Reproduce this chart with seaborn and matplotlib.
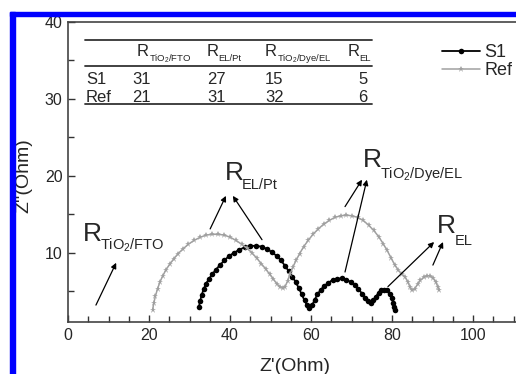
import matplotlib
matplotlib.use("Agg")
import matplotlib.pyplot as plt
from matplotlib.lines import Line2D
from matplotlib.patches import Rectangle
from matplotlib.ticker import MultipleLocator
import seaborn as sns

# S1 Nyquist data (Z', Z''), one row per arc
s1_x = [32.3, 32.6, 33.0, 33.5, 34.1, 34.8, 35.6, 36.5, 37.5, 38.6, 39.8, 41.0, 42.3, 43.6, 45.0,
        46.4, 47.8, 49.1, 50.3, 51.5, 52.6, 53.6, 54.5, 55.4, 56.2, 57.0, 57.7, 58.4, 59.0, 59.6,
        60.3, 60.9, 61.6, 62.4, 63.3, 64.3, 65.4, 66.5, 67.6, 68.7, 69.8, 70.8, 71.7, 72.6, 73.4, 74.1, 74.8,
        75.4, 76.0, 76.7, 77.4, 78.1, 78.8, 79.4, 79.9, 80.3, 80.6, 80.8]
s1_y = [2.9, 3.7, 4.5, 5.3, 6.0, 6.6, 7.2, 7.8, 8.4, 9.0, 9.6, 10.0, 10.4, 10.7, 10.9,
        10.9, 10.8, 10.5, 10.1, 9.6, 9.0, 8.3, 7.6, 6.9, 6.2, 5.4, 4.6, 3.8, 3.2, 2.8,
        3.2, 3.9, 4.6, 5.2, 5.7, 6.1, 6.5, 6.6, 6.7, 6.5, 6.2, 5.8, 5.3, 4.7, 4.1, 3.7, 3.5,
        3.8, 4.3, 4.8, 5.1, 5.2, 5.1, 4.7, 4.1, 3.5, 2.9, 2.5]

# Ref Nyquist data, one row per arc
ref_x = [20.9, 21.2, 21.6, 22.1, 22.7, 23.4, 24.2, 25.1, 26.1, 27.2, 28.4, 29.7, 31.1, 32.6, 34.1, 35.6,
         37.1, 38.6, 40.1, 41.5, 42.9, 44.2, 45.4, 46.6, 47.7, 48.8, 49.8, 50.7, 51.5, 52.3, 53.0, 53.6,
         54.2, 54.8, 55.5, 56.3, 57.2, 58.2, 59.3, 60.5, 61.8, 63.1, 64.5, 65.9, 67.3, 68.7, 70.1, 71.5,
         72.9, 74.2, 75.5, 76.7, 77.8, 78.8, 79.8, 80.7, 81.6, 82.5, 83.3, 83.9, 84.4, 84.9,
         85.6, 86.3, 87.0, 87.8, 88.6, 89.4, 90.2, 90.8, 91.3, 91.6]
ref_y = [2.6, 3.5, 4.4, 5.3, 6.2, 7.0, 7.8, 8.5, 9.2, 9.9, 10.5, 11.1, 11.6, 12.0, 12.3, 12.4,
         12.4, 12.3, 12.0, 11.6, 11.1, 10.6, 10.0, 9.3, 8.6, 7.9, 7.2, 6.6, 6.0, 5.6, 5.4, 5.6,
         6.3, 7.2, 8.1, 9.0, 9.9, 10.8, 11.6, 12.4, 13.1, 13.7, 14.2, 14.6, 14.8, 14.9, 14.8, 14.6,
         14.2, 13.6, 12.9, 12.1, 11.2, 10.3, 9.3, 8.4, 7.7, 7.2, 6.8, 6.2, 5.6, 5.1,
         5.3, 5.9, 6.4, 6.8, 7.0, 7.0, 6.7, 6.2, 5.6, 5.1]

# inset table
table_cols = ["TiO$_2$/FTO", "EL/Pt", "TiO$_2$/Dye/EL", "EL"]
table_rows = ["S1", "Ref"]
table_vals = [["31", "27", "15", "5"],
              ["21", "31", "32", "6"]]

sns.set_style("ticks")
plt.rcParams["font.family"] = ["Liberation Sans", "DejaVu Sans"]
plt.rcParams["mathtext.fontset"] = "custom"
plt.rcParams["mathtext.rm"] = "Liberation Sans"
plt.rcParams["mathtext.default"] = "regular"

fig = plt.figure(figsize=(5.16, 3.74), dpi=100)
ax = fig.add_axes([68 / 516, 52 / 374, 115 * 4.05 / 516, 300 / 374])

sns.lineplot(x=s1_x, y=s1_y, sort=False, estimator=None, color="black", marker="o",
             markersize=4, markeredgewidth=0, linewidth=1.3, ax=ax)
sns.lineplot(x=ref_x, y=ref_y, sort=False, estimator=None, color="#a0a0a0", marker="*",
             markersize=5, markeredgewidth=0, linewidth=1.1, ax=ax)

ax.set_xlim(0, 115)
ax.set_ylim(1, 40)
ax.xaxis.set_major_locator(MultipleLocator(20))
ax.xaxis.set_minor_locator(MultipleLocator(5))
ax.yaxis.set_major_locator(MultipleLocator(10))
ax.yaxis.set_minor_locator(MultipleLocator(5))
ax.tick_params(which="both", direction="in", width=1, color="#333333", labelsize=11.5,
               top=False, right=False)
ax.tick_params(which="major", length=5, pad=4)
ax.tick_params(which="minor", length=4)
for sp in ax.spines.values():
    sp.set_linewidth(1.2)
    sp.set_color("#444444")
ax.set_xlabel("")
ax.set_ylabel("")

fig.text(295 / 516, 3 / 374, "Z'(Ohm)", fontsize=14, ha="center", va="baseline")
fig.text(24 / 516, 0.53, "Z''(Ohm)", fontsize=14, rotation=90, ha="center", va="center")

# table
for yy in (37.7, 34.3, 29.3):
    ax.plot([4.2, 75.0], [yy, yy], color="#333333", linewidth=1.3)
head_x = [17.0, 34.3, 48.6, 69.1]
for hx, lab in zip(head_x, table_cols):
    ax.text(hx, 35.6, "R", fontsize=12, va="baseline")
    ax.text(hx + 2.9, 34.9, lab, fontsize=6.8, va="baseline")
row_y = [31.9, 29.6]
val_x = [15.8, 34.3, 48.6, 71.6]
for ry, rlab, vals in zip(row_y, table_rows, table_vals):
    ax.text(4.4, ry, rlab, fontsize=12, va="baseline")
    for vx, v in zip(val_x, vals):
        ax.text(vx, ry, v, fontsize=12, va="baseline")

# annotations
labels = [("TiO$_2$/FTO", 3.6, 11.5, 7.9, 10.4),
          ("EL/Pt", 38.8, 19.5, 42.9, 18.3),
          ("TiO$_2$/Dye/EL", 72.8, 21.2, 77.0, 19.7),
          ("EL", 91.1, 12.6, 95.6, 11.0)]
for sub, rx, ry, sx, sy in labels:
    ax.text(rx, ry, "R", fontsize=19, va="baseline")
    ax.text(sx, sy, sub, fontsize=10.5, va="baseline")
arrows = [((6.9, 3.2), (11.9, 8.7)),
          ((35.1, 13.1), (39.0, 17.4)),
          ((47.9, 11.7), (40.7, 17.4)),
          ((68.4, 16.0), (72.6, 19.5)),
          ((68.4, 7.5), (73.8, 19.5)),
          ((79.0, 5.6), (90.4, 11.4)),
          ((90.1, 8.4), (92.6, 11.4))]
for start, end in arrows:
    ax.annotate("", xy=end, xytext=start,
                arrowprops=dict(arrowstyle="-|>", color="black", lw=0.9, mutation_scale=8,
                                shrinkA=0, shrinkB=0))

handles = [Line2D([], [], color="black", marker="o", markersize=4, markeredgewidth=0, linewidth=1.3),
           Line2D([], [], color="#a0a0a0", marker="*", markersize=5, markeredgewidth=0, linewidth=1.1)]
fig.legend(handles, ["S1", "Ref"], loc="upper left", bbox_to_anchor=(442 / 516, 1 - 44 / 374),
           frameon=False, fontsize=13, handlelength=2.1, handletextpad=0.25, borderpad=0,
           borderaxespad=0, labelspacing=0.05, numpoints=1)

# blue frame from the scan
fig.add_artist(Rectangle((10 / 516, 0), 5 / 516, (374 - 12) / 374, transform=fig.transFigure,
                         color="#0000ff", zorder=10))
fig.add_artist(Rectangle((10 / 516, (374 - 16) / 374), 1, 4 / 374, transform=fig.transFigure,
                         color="#0000ff", zorder=10))

fig.savefig("out.png", dpi=100)
